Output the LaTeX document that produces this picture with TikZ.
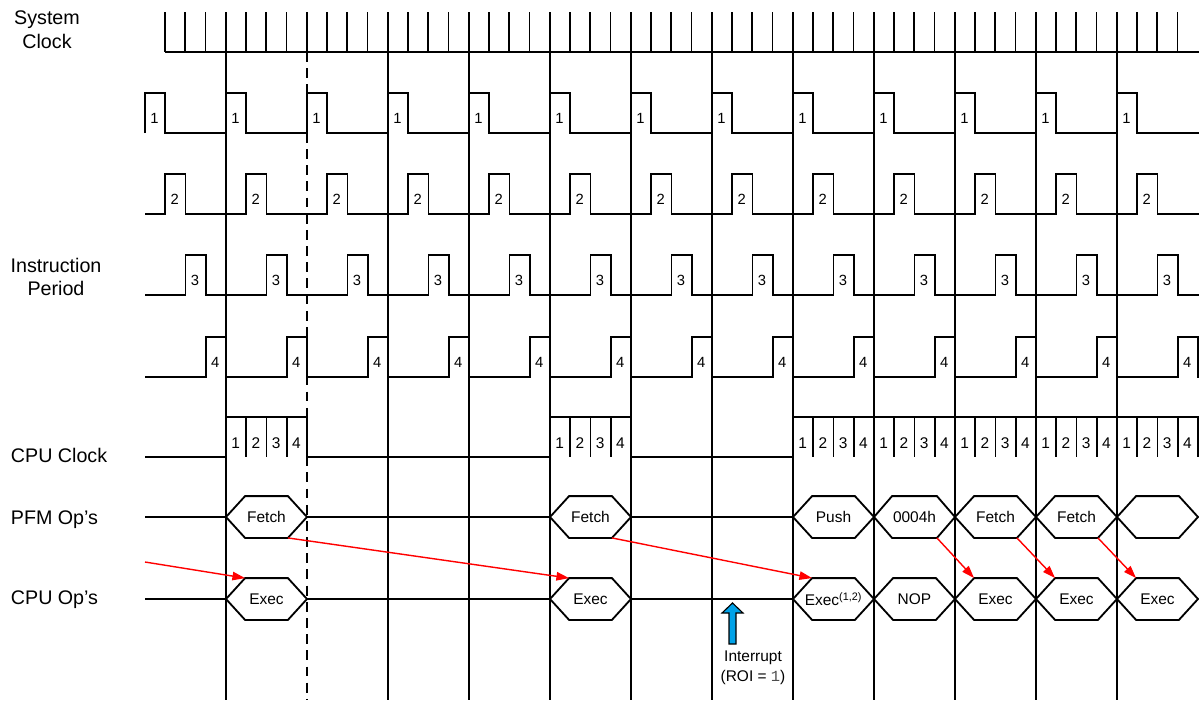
\documentclass[tikz,border=0pt]{standalone}
\usepackage{fontspec}
\setmainfont{Liberation Sans}
\newfontfamily\roimono{Liberation Mono}
\usetikzlibrary{arrows.meta,positioning,calc}
\definecolor{flow}{HTML}{FF0000}
\definecolor{irqblue}{HTML}{00A2E8}

\begin{document}
\begin{tikzpicture}[x=0.025cm, y=-0.025cm, line width=1.3pt,
    every node/.style={font=\fontsize{11}{14}\selectfont, inner sep=0pt},
    sig/.style={font=\fontsize{14}{17}\selectfont, align=center},
    op/.style={minimum width=1.025cm, minimum height=1cm},
    flowarrow/.style={flow, line width=1pt, -{Triangle[length=9pt,width=6pt]}}]
  \useasboundingbox (0,0) rectangle (1199,700);

  % signal names
  \node[sig] (sysclk) at (47,30) {System\\Clock};
  \node[sig] (instr) at (56,277) {Instruction\\Period};
  \node[sig, anchor=west] (cpuclk) at (10,455) {CPU Clock};
  \node[sig, anchor=west] (pfmop) at (10,520) {PFM Op’s};
  \node[sig, anchor=west] (cpuop) at (10,600) {CPU Op’s};

  % system clock and instruction boundaries
  \draw (165,52) -- (1199,52);
  \foreach \i in {0,...,50}
    \draw (165+20.25*\i,12) -- (165+20.25*\i,52);
  \foreach \j in {0,2,3,...,11}
    \draw (226+81*\j,52) -- (226+81*\j,700);
  \draw[dash pattern=on 7pt off 4.5pt] (307,52) -- (307,700);

  % Q1..Q4
  \foreach \k/\lo in {1/133,2/214,3/295,4/377}{
    \pgfmathsetmacro\s{145+20.25*(\k-1)}
    \draw (145,\lo) \foreach \m in {0,...,12}{ -- (\s+81*\m,\lo) -- ++(0,-40) -- ++(20.25,0) -- ++(0,40) } -- (1199,\lo);
    \foreach \m in {0,...,12}
      \node[font=\fontsize{10.5}{12}\selectfont] (ph\k-\m) at (\s+81*\m+9.5,\lo-15) {\k};
  }

  % CPU clock
  \draw (145,457) -- (226,457) -- (226,417) -- (307,417) -- (307,457) -- (550,457) -- (550,417) -- (631,417)
    -- (631,457) -- (793,457) -- (793,417) -- (1198,417) -- (1198,457);
  \foreach \w/\n in {226/4, 550/4, 793/20}{
    \foreach \i in {1,...,\n}{
      \pgfmathtruncatemacro\d{mod(\i-1,4)+1}
      \draw (\w+20.25*\i,417) -- (\w+20.25*\i,457);
      \node (cq\w-\i) at (\w+20.25*\i-10.5,443) {\d};
    }
  }

  % PFM and CPU operations
  \draw (145,517) -- (226,517) (307,517) -- (550,517) (631,517) -- (793,517);
  \draw (145,599) -- (226,599) (307,599) -- (550,599) (631,599) -- (793,599);
  \foreach \n/\x/\t in {pf1/226/Fetch, pf2/550/Fetch, pf3/793/Push, pf4/874/0004h, pf5/955/Fetch, pf6/1036/Fetch, pf7/1117/{}}{
    \node[op] (\n) at (\x+40.5,517) {\t};
    \draw (\x,517) -- (\n.north west) -- (\n.north east) -- (\x+81,517) -- (\n.south east) -- (\n.south west) -- cycle;
  }
  \foreach \n/\x/\t in {ex1/226/Exec, ex2/550/Exec, ex3/793/{\makebox[0pt]{Exec\textsuperscript{(1,2)}}}, ex4/874/NOP, ex5/955/Exec, ex6/1036/Exec, ex7/1117/Exec}{
    \node[op] (\n) at (\x+40.5,599) {\t};
    \draw (\x,599) -- (\n.north west) -- (\n.north east) -- (\x+81,599) -- (\n.south east) -- (\n.south west) -- cycle;
  }

  % fetch -> execute
  \coordinate (prevfetch) at (145,562);
  \draw[flowarrow] (prevfetch) -- (ex1.north west);
  \foreach \a/\b in {pf1/ex2, pf2/ex3, pf4/ex5, pf5/ex6, pf6/ex7}
    \draw[flowarrow] (\a.south east) -- (\b.north west);

  % interrupt
  \draw[fill=irqblue, line width=0.8pt] (729,644) -- (729,613) -- (722,613) -- (732.5,603) -- (743,613)
    -- (736,613) -- (736,644) -- cycle;
  \node[align=center] (irq) at (753,668) {Interrupt\\(ROI = \textcolor{black!70}{\roimono 1})};
\end{tikzpicture}
\end{document}
